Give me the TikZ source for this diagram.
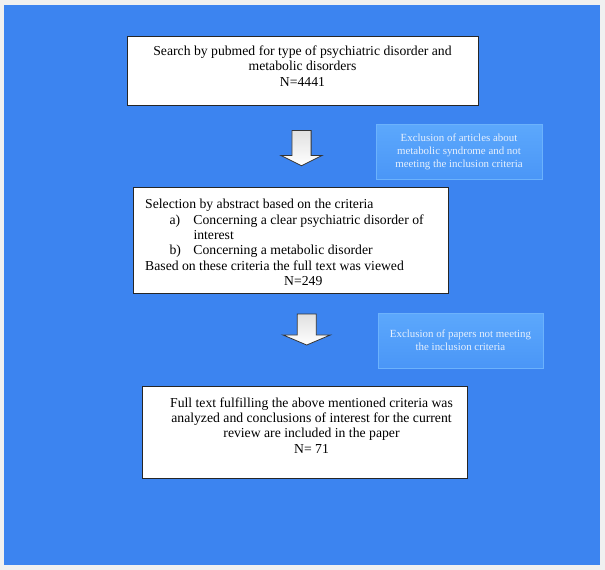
\documentclass[tikz,border=0pt]{standalone}
\usepackage{fontspec}
\setmainfont{Liberation Serif}
\usetikzlibrary{shapes.arrows}

\definecolor{pagegrey}{RGB}{240,240,240}
\definecolor{bgblue}{RGB}{60,132,240}
\definecolor{excltop}{RGB}{92,168,252}
\definecolor{exclbottom}{RGB}{74,150,247}
\definecolor{excldraw}{RGB}{108,178,252}
\definecolor{excltext}{RGB}{230,240,253}

\begin{document}
\begin{tikzpicture}[x=1pt,y=1pt,yscale=-1,
    stagebox/.style={draw=black!85, line width=1pt, fill=white, inner sep=0pt},
    stagetext/.style={inner sep=0pt, font=\fontsize{13.7}{15.4}\selectfont},
    exclnote/.style={top color=excltop, bottom color=exclbottom, draw=excldraw, text=excltext,
        align=center, inner sep=0pt, font=\fontsize{10.9}{13}\selectfont},
    downarrow/.style={single arrow, draw=black!80, line width=0.8pt,
        top color=black!12, middle color=white, bottom color=white,
        rotate=-90, inner sep=0pt}]
    % page and blue background
    \useasboundingbox[fill=pagegrey] (0,0) rectangle (605,570);
    \fill[bgblue] (4,5) rectangle (600,565);

    % stage 1
    \node[stagebox, minimum width=351, minimum height=69] (search) at (302.5,70.5) {};
    \node[stagetext, align=center, anchor=north] (searchtxt) at (302.5,45.7)
        {Search by pubmed for type of psychiatric disorder and\\metabolic disorders\\N=4441};

    \node[downarrow, minimum height=35.3, minimum width=40.7, inner ysep=9.2,
        single arrow head extend=11.15, single arrow tip angle=127] (arrowA) at (301.5,145.7) {};
    \node[exclnote, minimum width=166, minimum height=55.5] (exclA) at (459,151.75)
        {Exclusion of articles about\\metabolic syndrome and not\\meeting the inclusion criteria};

    % stage 2
    \node[stagebox, minimum width=315, minimum height=106] (abstract) at (290.5,240) {};
    \node[stagetext, align=left, anchor=north west] (abstracttxt) at (145,199)
        {Selection by abstract based on the criteria\\
         \hspace*{24.3pt}\makebox[24pt][l]{a)}Concerning a clear psychiatric disorder of\\
         \hspace*{48.3pt}interest\\
         \hspace*{24.3pt}\makebox[24pt][l]{b)}Concerning a metabolic disorder\\
         Based on these criteria the full text was viewed\\
         \hspace*{139pt}N=249};

    \node[downarrow, minimum height=31, minimum width=46.7, inner ysep=9.15,
        single arrow head extend=14.2, single arrow tip angle=134] (arrowB) at (306.7,327.5) {};
    \node[exclnote, minimum width=165, minimum height=55] (exclB) at (460.5,340.5)
        {Exclusion of papers not meeting\\the inclusion criteria};

    % stage 3
    \node[stagebox, minimum width=325, minimum height=92] (fulltext) at (304.5,432) {};
    \node[stagetext, align=center, anchor=north] (fulltexttxt) at (311.5,397.2)
        {Full text fulfilling the above mentioned criteria was\\
         analyzed and conclusions of interest for the current\\
         review are included in the paper\\N= 71};
\end{tikzpicture}
\end{document}
